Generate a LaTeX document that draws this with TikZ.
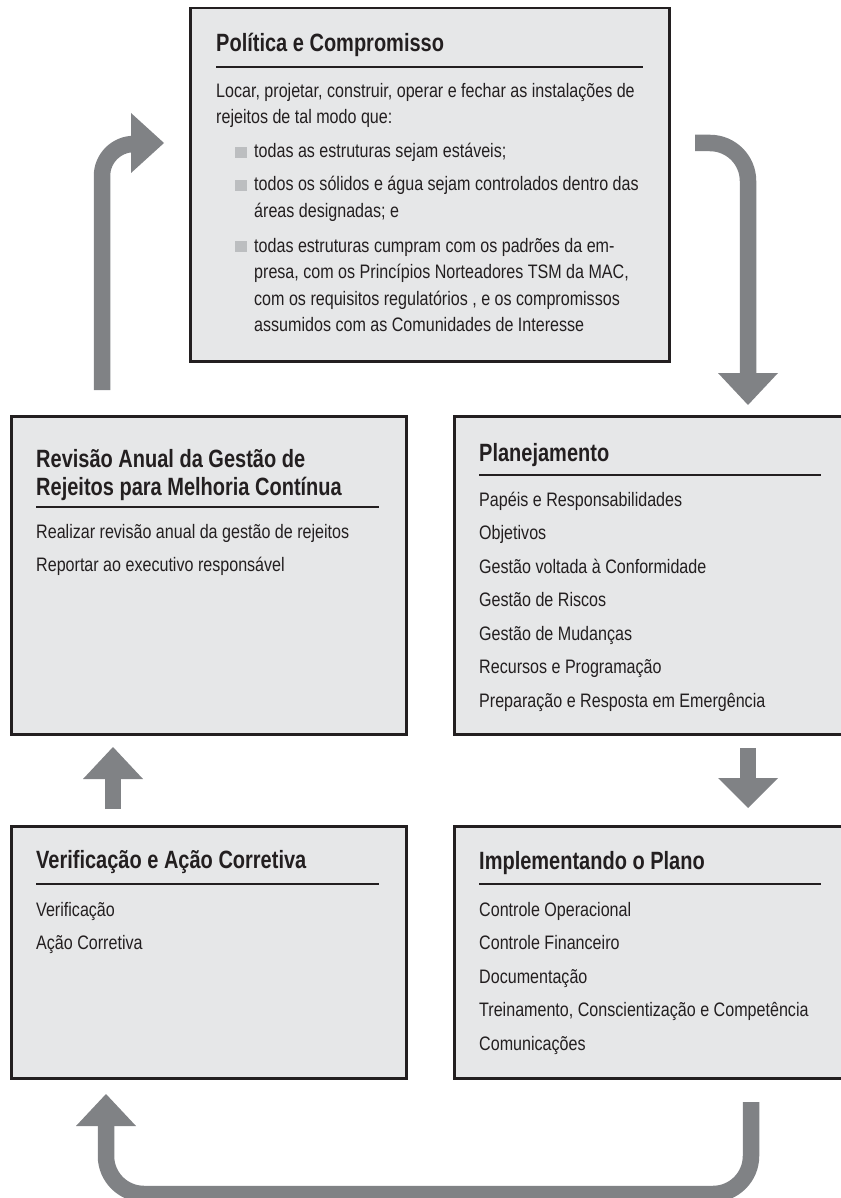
\documentclass[tikz,border=0pt]{standalone}
\usepackage{fontspec}
\setmainfont{Liberation Sans}[FakeStretch=0.8]
\newfontfamily\bodyfont{Liberation Sans}[FakeStretch=0.825]
\definecolor{boxfill}{HTML}{E6E7E8}
\definecolor{arrowgray}{HTML}{808285}
\definecolor{bulletgray}{HTML}{BCBEC0}
\definecolor{ink}{HTML}{231F20}
\begin{document}
\begin{tikzpicture}[x=1pt,y=-1pt,
 panel/.style={draw=ink, fill=boxfill, line width=2.5pt, rectangle, inner sep=0pt, anchor=north west},
 ttl/.style={anchor=base west, inner sep=0pt, font=\fontsize{25}{28}\selectfont\bfseries, text=ink},
 txt/.style={anchor=base west, inner sep=0pt, font=\bodyfont\fontsize{19.5}{26}\selectfont, text=ink},
 rulel/.style={draw=ink, line width=2.7pt},
 shaft/.style={draw=arrowgray, line width=16.5pt},
 head/.style={fill=arrowgray},
 bul/.style={fill=bulletgray, rectangle, inner sep=0pt, minimum width=12pt, minimum height=11pt, anchor=south west}]
\useasboundingbox (0,0) rectangle (840,1198);

% ---------- boxes ----------
\node[panel, minimum width=479pt, minimum height=353pt] (pol) at (189,7) {};
\node[panel, minimum width=395pt, minimum height=318pt] (rev) at (10,415) {};
\node[panel, minimum width=420pt, minimum height=318pt] (pla) at (453,415) {};
\node[panel, minimum width=395pt, minimum height=252pt] (ver) at (10,825) {};
\node[panel, minimum width=420pt, minimum height=252pt] (imp) at (453,825) {};

% ---------- Política e Compromisso ----------
\node[ttl] (polT) at (216,52) {Política e Compromisso};
\draw[rulel] (216,67) -- (643,67);
\node[txt] (polA) at (216,98) {Locar, projetar, construir, operar e fechar as instalações de};
\node[txt] (polB) at (216,124) {rejeitos de tal modo que:};
\node[bul] (b1) at (235,158) {};
\node[txt] (polC) at (254,158) {todas as estruturas sejam estáveis;};
\node[bul] (b2) at (235,191) {};
\node[txt] (polD) at (254,191) {todos os sólidos e água sejam controlados dentro das};
\node[txt] (polE) at (254,218) {áreas designadas; e};
\node[bul] (b3) at (235,252) {};
\node[txt] (polF) at (254,252) {todas estruturas cumpram com os padrões da em-};
\node[txt] (polG) at (254,278) {presa, com os Princípios Norteadores TSM da MAC,};
\node[txt] (polH) at (254,305) {com os requisitos regulatórios , e os compromissos};
\node[txt] (polI) at (254,331) {assumidos com as Comunidades de Interesse};

% ---------- Revisão ----------
\node[ttl] (revT1) at (36,467) {Revisão Anual da Gestão de};
\node[ttl] (revT2) at (36,495) {Rejeitos para Melhoria Contínua};
\draw[rulel] (36,507) -- (379,507);
\node[txt] (revA) at (36,538) {Realizar revisão anual da gestão de rejeitos};
\node[txt] (revB) at (36,571) {Reportar ao executivo responsável};

% ---------- Planejamento ----------
\node[ttl] (plaT) at (479,461) {Planejamento};
\draw[rulel] (479,475) -- (821,475);
\foreach \t [count=\i from 0] in {Papéis e Responsabilidades,Objetivos,Gestão voltada à Conformidade,Gestão de Riscos,Gestão de Mudanças,Recursos e Programação,Preparação e Resposta em Emergência}
  \node[txt] (pla\i) at (479,506+33.5*\i) {\t};

% ---------- Verificação ----------
\node[ttl] (verT) at (36,868) {Verificação e Ação Corretiva};
\draw[rulel] (36,884) -- (379,884);
\node[txt] (verA) at (36,916) {Verificação};
\node[txt] (verB) at (36,949) {Ação Corretiva};

% ---------- Implementando ----------
\node[ttl] (impT) at (479,869) {Implementando o Plano};
\draw[rulel] (479,884) -- (821,884);
\foreach \t [count=\i from 0] in {Controle Operacional,Controle Financeiro,Documentação,{Treinamento, Conscientização e Competência},Comunicações}
  \node[txt] (imp\i) at (479,916+33.6*\i) {\t};

% ---------- arrows ----------
% Revisão -> Política
\coordinate (a1s) at (102,390);
\coordinate (a1e) at (133,144);
\draw[shaft, rounded corners=32pt] (a1s) |- (a1e);
\fill[head] (131,113) -- (164,143) -- (131,173) -- cycle;

% Política -> Planejamento
\coordinate (a2s) at (695,143);
\coordinate (a2e) at (748,375);
\draw[shaft, rounded corners=38pt] (a2s) -| (a2e);
\fill[head] (718,373) -- (778,373) -- (748,405) -- cycle;

% Planejamento -> Implementando
\coordinate (a3s) at (748,748);
\coordinate (a3e) at (748,780);
\draw[shaft] (a3s) -- (a3e);
\fill[head] (718,778) -- (778,778) -- (748,808) -- cycle;

% Verificação -> Revisão
\coordinate (a4s) at (113,809);
\coordinate (a4e) at (113,777);
\draw[shaft] (a4s) -- (a4e);
\fill[head] (83,779) -- (143,779) -- (113,747) -- cycle;

% Implementando -> Verificação
\coordinate (a5s) at (751,1102);
\coordinate (a5m) at (751,1194);
\coordinate (a5n) at (106,1194);
\coordinate (a5e) at (106,1124);
\draw[shaft, rounded corners=38pt] (a5s) -- (a5m) -- (a5n) -- (a5e);
\fill[head] (76,1126) -- (136,1126) -- (106,1094) -- cycle;
\end{tikzpicture}
\end{document}
